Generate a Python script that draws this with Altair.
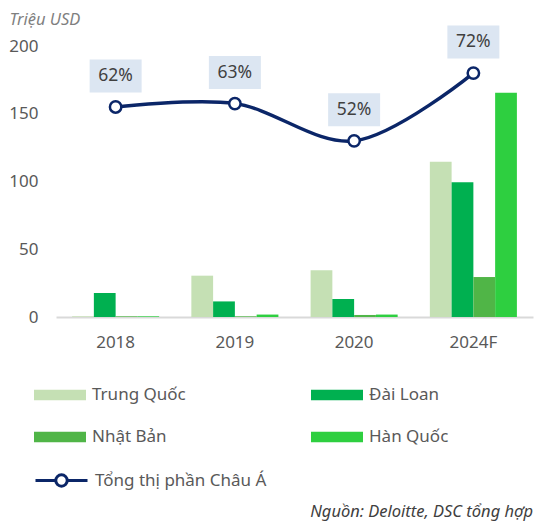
import altair as alt
import pandas as pd

years = ["2018", "2019", "2020", "2024F"]
series = ["Trung Quốc", "Đài Loan", "Nhật Bản", "Hàn Quốc"]
trung_quoc = [0.5, 30.5, 34.5, 114.5]
dai_loan = [17.7, 11.5, 13.3, 99.5]
nhat_ban = [0.5, 0.5, 1.5, 29.5]
han_quoc = [0.5, 1.8, 1.8, 165.5]
share = [0.62, 0.63, 0.52, 0.72]
share_labels = ["62%", "63%", "52%", "72%"]
colors = ["#c5e0b4", "#00b050", "#50b547", "#2ecf40"]
line_name = "Tổng thị phần Châu Á"
NAVY = "#0b2668"
FONT = "Noto Sans"

rows = []
for i, yr in enumerate(years):
    for s, vals in zip(series, [trung_quoc, dai_loan, nhat_ban, han_quoc]):
        rows.append({"year": yr, "series": s, "value": vals[i]})
bars_df = pd.DataFrame(rows)
line_df = pd.DataFrame({"year": years, "share": share, "label": share_labels,
                        "name": [line_name] * len(years)})

x_enc = alt.X(
    "year:N", sort=years,
    scale=alt.Scale(paddingInner=0.27, paddingOuter=0.135),
    axis=alt.Axis(title=None, labelAngle=0, domainColor="#d9d9d9", domainWidth=2,
                  ticks=False, labelFontSize=17, labelColor="#595959",
                  labelPadding=17, labelFont=FONT),
)

bars = alt.Chart(bars_df).mark_bar().encode(
    x=x_enc,
    xOffset=alt.XOffset("series:N", sort=series,
                        scale=alt.Scale(paddingInner=0, paddingOuter=0)),
    y=alt.Y("value:Q", scale=alt.Scale(domain=[0, 200], nice=False),
            axis=alt.Axis(title="Triệu USD", titleAngle=0, titleAlign="left",
                          titleBaseline="middle", titleX=-47, titleY=-27,
                          titleFontStyle="italic", titleFontWeight="normal",
                          titleFontSize=16.5, titleColor="#7f7f7f", titleFont=FONT,
                          values=[0, 50, 100, 150, 200], grid=False, domain=False,
                          ticks=False, labelFontSize=17, labelColor="#595959",
                          labelPadding=18, labelFont=FONT)),
    color=alt.Color("series:N", sort=series,
                    scale=alt.Scale(domain=series, range=colors),
                    legend=alt.Legend(title=None, orient="none", legendX=-22,
                                      legendY=323, columns=2, direction="horizontal",
                                      symbolType="M-1,-0.2H1V0.2H-1Z",
                                      symbolSize=2704, symbolStrokeWidth=0,
                                      labelFontSize=17, labelColor="#595959",
                                      labelFont=FONT, labelOffset=6,
                                      columnPadding=125, rowPadding=8)),
)

y_share = alt.Y("share:Q", scale=alt.Scale(domain=[0, 0.8], nice=False), axis=None)

line = alt.Chart(line_df).mark_line(interpolate="catmull-rom", strokeWidth=3.5).encode(
    x=x_enc,
    y=y_share,
    stroke=alt.Stroke("name:N", scale=alt.Scale(domain=[line_name], range=[NAVY]),
                      legend=alt.Legend(title=None, orient="none", legendX=-22,
                                        legendY=407,
                                        symbolType="M-1,0H-0.22M0.22,0H1M-0.22,0A0.22,0.22,0,1,0,0.22,0A0.22,0.22,0,1,0,-0.22,0",
                                        symbolSize=2704, symbolStrokeWidth=3,
                                        symbolFillColor="white", labelLimit=400,
                                        labelFontSize=17, labelColor="#595959",
                                        labelFont=FONT, labelOffset=6)),
)

points = alt.Chart(line_df).mark_point(filled=True, fill="white", stroke=NAVY,
                                       strokeWidth=2.5, size=130, opacity=1).encode(
    x=x_enc, y=y_share)

boxes = alt.Chart(line_df).mark_point(shape="M-1,-0.635H1V0.635H-1Z", size=2704,
                                      filled=True, fill="#dce6f2", strokeWidth=0,
                                      opacity=1, yOffset=-31).encode(
    x=x_enc, y=y_share)

labels = alt.Chart(line_df).mark_text(yOffset=-31, fontSize=17.5, color="#404040",
                                      font=FONT, baseline="middle").encode(
    x=x_enc, y=y_share, text="label:N")

chart = alt.layer(bars, boxes, labels, line, points).resolve_scale(
    y="independent"
).properties(
    width=477, height=271,
    padding={"left": 48, "top": 38, "right": 2, "bottom": 206},
    autosize=alt.AutoSizeParams(type="none"),
    title=alt.TitleParams("Nguồn: Deloitte, DSC tổng hợp", orient="bottom",
                          anchor="end", fontStyle="italic", fontWeight="normal",
                          fontSize=16.5, color="#404040", font=FONT, offset=11),
).configure_view(stroke=None)

chart.save("out.html", embed_options={"renderer": "svg", "actions": False})
